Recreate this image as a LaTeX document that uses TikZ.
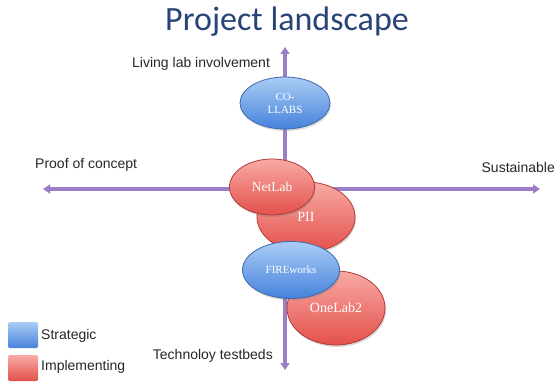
\documentclass[tikz,border=0pt]{standalone}
\usepackage{fontspec}
\setmainfont{Liberation Serif}
\setsansfont{Liberation Sans}
\newfontfamily\titlefont{Carlito}
\usetikzlibrary{shapes.geometric,arrows.meta,shadows}
\definecolor{axiscol}{RGB}{155,125,200}
\definecolor{titlecol}{RGB}{40,68,118}
\definecolor{bluetop}{RGB}{170,205,245}
\definecolor{bluebot}{RGB}{70,130,220}
\definecolor{blueedge}{RGB}{60,105,175}
\definecolor{redtop}{RGB}{248,170,165}
\definecolor{redbot}{RGB}{228,80,75}
\definecolor{rededge}{RGB}{175,60,55}
\tikzset{
  axisline/.style={draw=axiscol, line width=4pt,
    -{Triangle[width=9pt,length=7pt]},
    drop shadow={opacity=0.25, shadow xshift=1pt, shadow yshift=-1.5pt}},
  strat/.style={ellipse, draw=blueedge, line width=0.8pt, inner sep=0pt,
    top color=bluetop, bottom color=bluebot, text=white,
    drop shadow={opacity=0.3, shadow xshift=1pt, shadow yshift=-2pt}},
  impl/.style={ellipse, draw=rededge, line width=0.8pt, inner sep=0pt,
    top color=redtop, bottom color=redbot, text=white,
    drop shadow={opacity=0.3, shadow xshift=1pt, shadow yshift=-2pt}},
  lbl/.style={font=\sffamily\fontsize{14}{16}\selectfont, text=black!85, inner sep=0pt},
  legbox/.style={rounded corners=1.5pt, minimum width=30pt, minimum height=26pt, inner sep=0pt}
}
\begin{document}
\begin{tikzpicture}[x=1pt,y=-1pt]
\useasboundingbox (0,0) rectangle (556,385);
% title
\node[font=\titlefont\fontsize{34}{38}\selectfont, text=titlecol] (title) at (287,22) {Project landscape};
% axes
\coordinate (vmid) at (285,189);
\coordinate (vtop) at (285,47);
\coordinate (vbot) at (285,370);
\coordinate (hleft) at (43,189);
\coordinate (hright) at (540,189);
\draw[axisline] (vmid) -- (vtop);
\draw[axisline] (vmid) -- (vbot);
\draw[axisline] (vmid) -- (hleft);
\draw[axisline] (vmid) -- (hright);
% axis labels
\node[lbl, anchor=west] (lliving) at (132,64) {Living lab involvement};
\node[lbl, anchor=west] (lproof) at (35,165) {Proof of concept};
\node[lbl, anchor=east] (lsust) at (555,167) {Sustainable};
\node[lbl, anchor=east] (ltech) at (273,356) {Technoloy testbeds};
% ellipses
\node[strat, minimum width=90pt, minimum height=52pt, align=center,
  font=\fontsize{11}{13}\selectfont] (colabs) at (285,103) {CO-\\LLABS};
\node[impl, minimum width=98pt, minimum height=70pt,
  font=\fontsize{14}{16}\selectfont] (pii) at (306,217) {\raisebox{-4pt}{PII}};
\node[impl, minimum width=85pt, minimum height=56pt,
  font=\fontsize{13.5}{16}\selectfont] (netlab) at (272,187) {NetLab};
\node[impl, minimum width=98pt, minimum height=74pt,
  font=\fontsize{14}{16}\selectfont] (onelab) at (336,308) {OneLab2};
\node[strat, minimum width=97pt, minimum height=57pt,
  font=\fontsize{11}{13}\selectfont] (fire) at (291,270) {FIREworks};
% legend
\node[legbox, top color=bluetop, bottom color=bluebot] (legs) at (23,335) {};
\node[legbox, top color=redtop, bottom color=redbot] (legi) at (23,368) {};
\node[lbl, anchor=west] (tstrat) at (41,336) {Strategic};
\node[lbl, anchor=west] (timpl) at (41,367) {Implementing};
\end{tikzpicture}
\end{document}
